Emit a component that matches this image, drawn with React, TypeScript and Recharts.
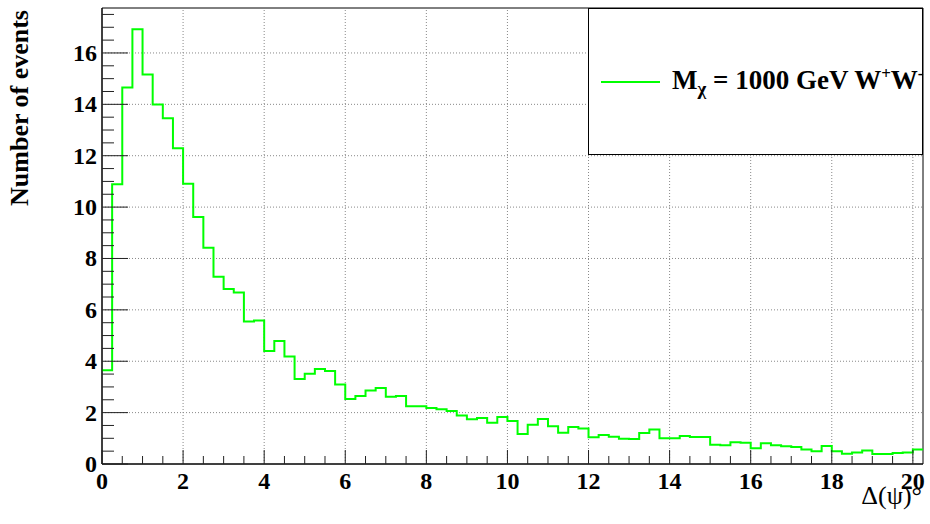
import React from 'react';
import { ComposedChart, Line, XAxis, YAxis, ReferenceLine, ReferenceArea, Legend } from 'recharts';

// histogram: 81 bins of 0.25 deg, starting at 0
const binWidth = 0.25;
const counts = [
  3.65, 10.89, 14.66, 16.92, 15.16, 13.99, 13.46, 12.29, 10.91, 9.61,
  8.42, 7.29, 6.81, 6.68, 5.55, 5.59, 4.4, 4.79, 4.18, 3.31,
  3.51, 3.7, 3.62, 3.09, 2.53, 2.65, 2.86, 2.96, 2.62, 2.65,
  2.25, 2.25, 2.18, 2.13, 2.06, 1.89, 1.74, 1.79, 1.61, 1.83,
  1.67, 1.17, 1.53, 1.75, 1.47, 1.22, 1.44, 1.38, 1.04, 1.13,
  1.06, 0.98, 0.97, 1.21, 1.34, 1.0, 1.0, 1.09, 1.05, 1.05,
  0.75, 0.73, 0.85, 0.83, 0.61, 0.81, 0.73, 0.69, 0.66, 0.56,
  0.5, 0.7, 0.5, 0.4, 0.45, 0.53, 0.39, 0.39, 0.43, 0.45,
  0.56,
];

const xMajor = [0, 2, 4, 6, 8, 10, 12, 14, 16, 18, 20];
const yMajor = [0, 2, 4, 6, 8, 10, 12, 14, 16];
const xMinorStep = 0.5;
const yMinorStep = 0.5;

const seriesName = 'Mχ = 1000 GeV W+W-';
const xTitle = 'Δ(ψ)°';
const yTitle = 'Number of events';

const xMax = counts.length * binWidth;
const yMax = 17.75;

const xTicks = Array.from({ length: Math.round(20 / xMinorStep) + 1 }, (_, i) => i * xMinorStep);
const yTicks = Array.from({ length: Math.round(17.5 / yMinorStep) + 1 }, (_, i) => i * yMinorStep);

// step line: one point per bin edge, last edge repeats the last count
const data = [
  ...counts.map((c, i) => ({ x: i * binWidth, n: c })),
  { x: xMax, n: counts[counts.length - 1] },
];

const FONT = '"Liberation Serif", "Times New Roman", serif';
const GREEN = '#00ff00';

const XTick = (props: any) => {
  const { x, y, payload } = props;
  const major = xMajor.includes(payload.value);
  return (
    <g>
      <line x1={x} x2={x} y1={y} y2={y - (major ? 14 : 8)} stroke="#222" strokeWidth={1} />
      {major && (
        <text x={x} y={y + 25} textAnchor="middle" fontFamily={FONT} fontWeight="bold" fontSize={24} fill="#000">
          {payload.value}
        </text>
      )}
    </g>
  );
};

const YTick = (props: any) => {
  const { x, y, payload } = props;
  const major = yMajor.includes(payload.value);
  return (
    <g>
      <line x1={x} x2={x + (major ? 26 : 12)} y1={y} y2={y} stroke="#222" strokeWidth={1} />
      {major && (
        <text x={x - 5} y={y + 8} textAnchor="end" fontFamily={FONT} fontWeight="bold" fontSize={24} fill="#000">
          {payload.value}
        </text>
      )}
    </g>
  );
};

const LegendBox = () => (
  <div
    style={{
      position: 'relative',
      width: 335,
      height: 147,
      boxSizing: 'border-box',
      border: '1px solid #000',
      background: '#fff',
      fontFamily: FONT,
    }}
  >
    <div style={{ position: 'absolute', left: 12, top: 72, width: 59, height: 2, background: GREEN }} />
    <div
      style={{
        position: 'absolute',
        left: 83,
        top: 50,
        fontSize: 27,
        fontWeight: 'bold',
        whiteSpace: 'nowrap',
        lineHeight: '30px',
        color: '#000',
      }}
    >
      M<sub style={{ fontSize: 19, verticalAlign: '-6px' }}>χ</sub> = 1000 GeV W
      <sup style={{ fontSize: 17, verticalAlign: '10px' }}>+</sup>W
      <sup style={{ fontSize: 17, verticalAlign: '10px' }}>-</sup>
    </div>
  </div>
);

export default function App() {
  return (
    <div style={{ position: 'absolute', left: 0, top: 0, width: 930, height: 524, background: '#fff' }}>
      <ComposedChart width={930} height={524} data={data} margin={{ top: 8, right: 7, bottom: 0, left: 0 }}>
        <XAxis
          type="number"
          dataKey="x"
          domain={[0, xMax]}
          ticks={xTicks}
          interval={0}
          tickSize={0}
          tickMargin={0}
          tick={<XTick />}
          tickLine={false}
          height={60}
          axisLine={{ stroke: '#000' }}
          allowDataOverflow
          label={() => (
            <text x={922} y={504} textAnchor="end" fontFamily={FONT} fontSize={26} fill="#000">
              {xTitle}
            </text>
          )}
        />
        <YAxis
          type="number"
          domain={[0, yMax]}
          ticks={yTicks}
          interval={0}
          tickSize={0}
          tickMargin={0}
          tick={<YTick />}
          tickLine={false}
          width={102}
          axisLine={{ stroke: '#000' }}
          allowDataOverflow
          label={() => (
            <text
              x={28}
              y={10}
              transform="rotate(-90, 28, 10)"
              textAnchor="end"
              fontFamily={FONT}
              fontWeight="bold"
              fontSize={26}
              fill="#000"
            >
              {yTitle}
            </text>
          )}
        />
        {xMajor
          .filter((v) => v > 0)
          .map((v) => (
            <ReferenceLine key={`gx${v}`} x={v} stroke="#888" strokeDasharray="1 2" />
          ))}
        {yMajor
          .filter((v) => v > 0)
          .map((v) => (
            <ReferenceLine key={`gy${v}`} y={v} stroke="#888" strokeDasharray="1 2" />
          ))}
        <ReferenceArea x1={0} x2={xMax} y1={0} y2={yMax} fill="none" stroke="#000" strokeWidth={1} />
        <Line
          type="stepAfter"
          dataKey="n"
          name={seriesName}
          stroke={GREEN}
          strokeWidth={2}
          dot={false}
          activeDot={false}
          isAnimationActive={false}
        />
        <Legend
          layout="horizontal"
          verticalAlign="middle"
          align="center"
          wrapperStyle={{ position: 'absolute', left: 588, top: 8, width: 335, height: 147 }}
          content={() => <LegendBox />}
        />
      </ComposedChart>
    </div>
  );
}
